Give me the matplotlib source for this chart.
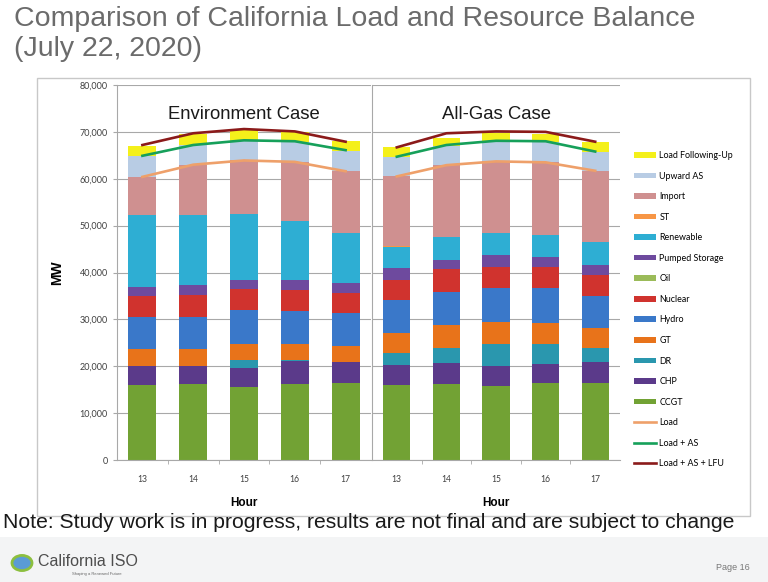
import numpy as np
import matplotlib
matplotlib.use("Agg")
import matplotlib.pyplot as plt
from matplotlib.patches import Rectangle, Circle

# categories
hours = ["13", "14", "15", "16", "17"]
resources = ["CCGT", "CHP", "DR", "GT", "Hydro", "Nuclear", "Oil",
             "Pumped Storage", "Renewable", "ST", "Import", "Upward AS",
             "Load Following-Up"]

# Environment case (MW), bottom -> top
env_ccgt = [15900, 16200, 15600, 16300, 16500]
env_chp = [4100, 3800, 4100, 4800, 4400]
env_dr = [0, 0, 1700, 300, 0]
env_gt = [3600, 3600, 3400, 3400, 3400]
env_hydro = [6900, 6900, 7300, 7000, 7100]
env_nuclear = [4500, 4800, 4300, 4400, 4300]
env_oil = [0, 0, 0, 0, 0]
env_pumped = [1900, 2000, 2100, 2200, 2000]
env_renew = [15400, 15000, 14000, 12600, 10800]
env_st = [0, 0, 0, 0, 0]
env_import = [8100, 10700, 11400, 12600, 13100]
env_as = [4400, 4100, 4100, 4200, 4400]
env_lfu = [2200, 2400, 2400, 2200, 2000]
env_load = [60400, 63000, 63900, 63600, 61600]
env_load_as = [64900, 67200, 68200, 68000, 66100]
env_load_lfu = [67200, 69700, 70600, 70100, 67900]

# All-Gas case (MW)
gas_ccgt = [15900, 16300, 15800, 16400, 16500]
gas_chp = [4300, 4300, 4200, 4000, 4400]
gas_dr = [2600, 3400, 4800, 4400, 2900]
gas_gt = [4300, 4800, 4700, 4500, 4300]
gas_hydro = [7000, 7100, 7100, 7300, 6900]
gas_nuclear = [4400, 4800, 4600, 4600, 4400]
gas_oil = [0, 0, 0, 0, 0]
gas_pumped = [2400, 1900, 2500, 2200, 2200]
gas_renew = [4500, 5000, 4700, 4700, 5000]
gas_st = [200, 0, 0, 0, 0]
gas_import = [15000, 15300, 15300, 15400, 15100]
gas_as = [4000, 4100, 4300, 4400, 4100]
gas_lfu = [2200, 1600, 1800, 1600, 2000]
gas_load = [60500, 62900, 63700, 63500, 61700]
gas_load_as = [64700, 67200, 68100, 68000, 65800]
gas_load_lfu = [66700, 69700, 70100, 70000, 67900]

env_layers = dict(zip(resources, [env_ccgt, env_chp, env_dr, env_gt, env_hydro, env_nuclear,
                                  env_oil, env_pumped, env_renew, env_st, env_import, env_as, env_lfu]))
gas_layers = dict(zip(resources, [gas_ccgt, gas_chp, gas_dr, gas_gt, gas_hydro, gas_nuclear,
                                  gas_oil, gas_pumped, gas_renew, gas_st, gas_import, gas_as, gas_lfu]))

colors = {
    "CCGT": "#72A234", "CHP": "#5B3A8A", "DR": "#2A97AE", "GT": "#E8731A",
    "Hydro": "#3A78C9", "Nuclear": "#D0332E", "Oil": "#9BBB59",
    "Pumped Storage": "#6E4A9E", "Renewable": "#2EAED3", "ST": "#F79646",
    "Import": "#CF9090", "Upward AS": "#B8CCE4", "Load Following-Up": "#F4F01A",
}
grid_c = "#A8A8A8"
small_font = "Lato"


def draw_case(ax, layers, load, load_as, load_lfu, title):
    x = np.arange(len(hours))
    bottom = np.zeros(len(hours))
    handles = {}
    for name in resources:
        vals = np.array(layers[name], dtype=float)
        b = ax.bar(x, vals, 0.55, bottom=bottom, color=colors[name], zorder=2, linewidth=0)
        handles[name] = b
        bottom += vals
    l1, = ax.plot(x, load, color="#EEA06A", lw=1.9, zorder=3)
    l2, = ax.plot(x, load_as, color="#16A05A", lw=1.9, zorder=3)
    l3, = ax.plot(x, load_lfu, color="#8B1A1A", lw=1.9, zorder=3)
    handles["Load"] = l1
    handles["Load + AS"] = l2
    handles["Load + AS + LFU"] = l3

    ax.set_xlim(-0.5, len(hours) - 0.5)
    ax.set_ylim(0, 80000)
    ax.set_yticks(np.arange(0, 80001, 10000))
    ax.yaxis.grid(True, color=grid_c, lw=0.8)
    ax.set_axisbelow(True)
    ax.set_xticks(x)
    ax.set_xticklabels(hours, fontsize=6.2, color="#404040", family=small_font)
    ax.set_xticks(np.arange(0.5, len(hours) - 0.5, 1), minor=True)
    ax.tick_params(axis="x", which="major", length=0, pad=11)
    ax.tick_params(axis="x", which="minor", length=3, color=grid_c)
    for s in ["top", "right"]:
        ax.spines[s].set_visible(False)
    ax.spines["left"].set_color(grid_c)
    ax.spines["bottom"].set_color(grid_c)
    ax.set_xlabel("Hour", fontsize=8.5, fontweight="bold", family="Liberation Sans", labelpad=9)
    ax.text(0.5, 0.922, title, transform=ax.transAxes, ha="center", va="center",
            fontsize=13.3, family="Liberation Sans", color="#1A1A1A")
    return handles


fig = plt.figure(figsize=(7.68, 5.82), dpi=100)
W, H = 768.0, 582.0

# faint footer band
fig.patches.append(Rectangle((0, 0), 1, 45 / H, transform=fig.transFigure,
                             facecolor="#F3F4F5", edgecolor="none", zorder=-2))
# chart frame
fig.patches.append(Rectangle((37 / W, 1 - 516 / H), 713 / W, 438 / H, transform=fig.transFigure,
                             facecolor="none", edgecolor="#C8C8C8", lw=1, zorder=-1))

ax1 = fig.add_axes([117 / W, 1 - 460 / H, 254 / W, 375 / H])
ax2 = fig.add_axes([372 / W, 1 - 460 / H, 248 / W, 375 / H])
ax1.patch.set_alpha(0)
ax2.patch.set_alpha(0)

h = draw_case(ax1, env_layers, env_load, env_load_as, env_load_lfu, "Environment Case")
draw_case(ax2, gas_layers, gas_load, gas_load_as, gas_load_lfu, "All-Gas Case")

ax1.set_yticklabels([f"{v:,}" for v in range(0, 80001, 10000)], fontsize=6.5,
                    color="#404040", family=small_font)
ax1.tick_params(axis="y", length=3, color=grid_c)
ax1.set_ylabel("MW", fontsize=10, fontweight="bold", family="Liberation Sans", labelpad=11)
ax2.tick_params(axis="y", length=0, labelleft=False)

legend_order = ["Load Following-Up", "Upward AS", "Import", "ST", "Renewable", "Pumped Storage",
                "Oil", "Nuclear", "Hydro", "GT", "DR", "CHP", "CCGT",
                "Load", "Load + AS", "Load + AS + LFU"]
fig.legend([h[k] for k in legend_order], legend_order, loc="upper left",
           bbox_to_anchor=(634 / W, 1 - 151 / H), frameon=False,
           prop={"family": small_font, "size": 6.4}, handlelength=2.5, handleheight=0.6,
           handletextpad=0.35, labelspacing=1.30, borderpad=0, borderaxespad=0)

# titles
fig.text(14 / W, 1 - 19 / H, "Comparison of California Load and Resource Balance",
         fontsize=20.5, color="#6B6B6B", family="Liberation Sans", va="center", ha="left")
fig.text(14 / W, 1 - 49 / H, "(July 22, 2020)",
         fontsize=20.5, color="#6B6B6B", family="Liberation Sans", va="center", ha="left")

# note + footer
fig.text(3 / W, 1 - 522 / H,
         "Note: Study work is in progress, results are not final and are subject to change",
         fontsize=15.2, color="#1A1A1A", family="Liberation Sans", va="center", ha="left")
fig.patches.append(Circle((22 / W, 1 - 563 / H), 10 / W, transform=fig.transFigure,
                          facecolor="#5A9BD5", edgecolor="#8CBF3F", lw=2, zorder=2))
fig.text(38 / W, 1 - 561 / H, "California ISO", fontsize=11.5, color="#4D4D4D",
         family="Liberation Sans", va="center", ha="left")
fig.text(72 / W, 1 - 574 / H, "Shaping a Renewed Future", fontsize=3, color="#666666",
         family="Liberation Sans", va="center", ha="left")
fig.text(750 / W, 1 - 568 / H, "Page 16", fontsize=6.5, color="#777777",
         family="Liberation Sans", va="center", ha="right")

fig.savefig("out.png", dpi=100)
